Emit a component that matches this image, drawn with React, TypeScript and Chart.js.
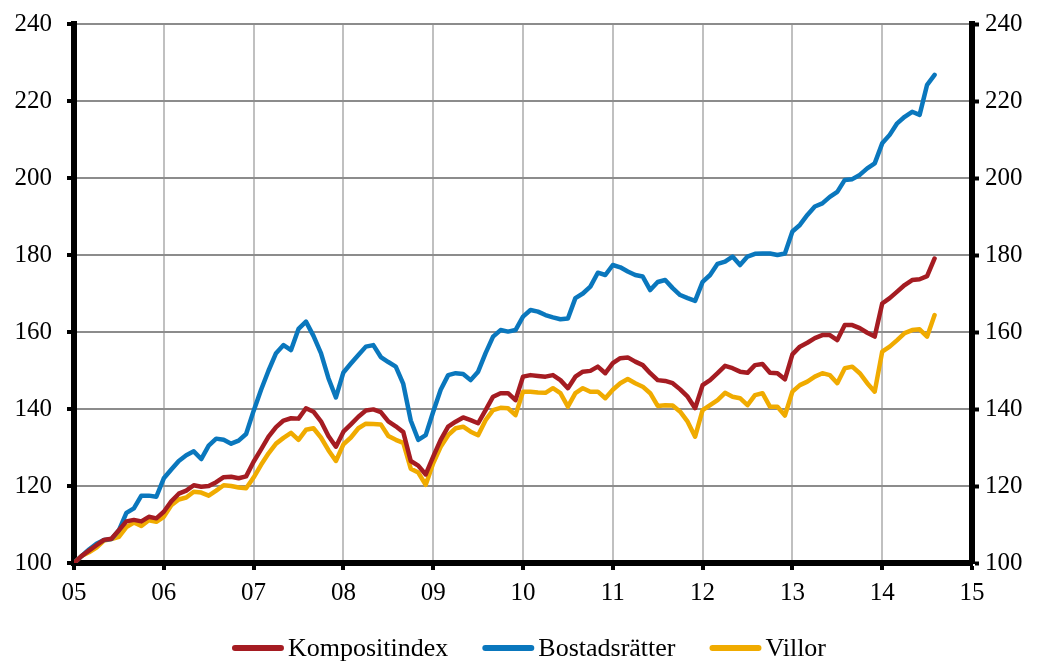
import React, { useEffect, useRef } from 'react';
import { Chart, registerables } from 'chart.js';

Chart.register(...registerables);

const yearLabels = ['05', '06', '07', '08', '09', '10', '11', '12', '13', '14', '15'];
const seriesNames = ['Kompositindex', 'Bostadsrätter', 'Villor'];
const seriesColors = ['#a51c22', '#0a77bd', '#f0ab00'];

// monthly index values, Jan 2005 .. Aug 2014
const kompositindex = [
  100, 101.8, 103.2, 104.6, 106, 106.3, 108.5, 110.8, 111.2, 110.8, 112, 111.6,
  113.3, 116, 118, 118.8, 120.2, 119.8, 120, 121, 122.3, 122.4, 122, 122.5,
  126.3, 129.5, 132.8, 135.3, 137, 137.6, 137.5, 140.2, 139.3, 136.8, 133, 130.2,
  134.1, 136, 138, 139.6, 139.9, 139.2, 136.8, 135.5, 134, 126.5, 125.3, 123,
  127.6, 132, 135.4, 136.7, 137.8, 137.1, 136.3, 139.7, 143.2, 144.1, 144.1, 142.3,
  148.4, 148.8, 148.6, 148.4, 148.8, 147.5, 145.4, 148.4, 149.7, 149.9, 151, 149.3,
  151.9, 153.2, 153.4, 152.3, 151.4, 149.3, 147.5, 147.3, 146.7, 145.1, 143.2, 140.2,
  146.2, 147.5, 149.3, 151.2, 150.6, 149.7, 149.4, 151.4, 151.7, 149.4, 149.3, 147.7,
  154.2, 156.2, 157.2, 158.4, 159.2, 159.2, 157.9, 161.8, 161.8, 161, 159.8, 158.8,
  167.4, 168.8, 170.5, 172.2, 173.5, 173.7, 174.5, 179.1,
];

const bostadsratter = [
  100, 101.8, 103.5, 105, 106, 106.2, 108.5, 113, 114.2, 117.5, 117.5, 117.2,
  122, 124.3, 126.5, 128, 129, 127, 130.5, 132.3, 132, 131, 131.8, 133.5,
  139.5, 145, 150, 154.5, 156.6, 155.3, 160.8, 162.7, 159, 154.5, 148, 143,
  149.5, 151.8, 154, 156.2, 156.6, 153.5, 152.2, 151, 146.5, 137, 132, 133.2,
  139.3, 145, 148.8, 149.3, 149.1, 147.5, 149.7, 154.5, 158.8, 160.5, 160.1, 160.5,
  164, 165.7, 165.3, 164.4, 163.8, 163.3, 163.5, 168.8, 170, 171.8, 175.4, 174.8,
  177.4, 176.8, 175.7, 174.8, 174.4, 170.9, 173, 173.5, 171.4, 169.6, 168.8, 168.1,
  173, 174.8, 177.7, 178.3, 179.6, 177.4, 179.6, 180.3, 180.4, 180.4, 180, 180.4,
  186.1, 187.8, 190.4, 192.6, 193.4, 195.1, 196.4, 199.5, 199.7, 200.8, 202.5, 203.8,
  209, 211.2, 214.2, 215.9, 217.2, 216.4, 224.2, 226.8,
];

const villor = [
  100, 101.8, 102.8, 104, 105.8, 106.2, 106.8, 109.3, 110.5, 109.6, 111.1, 110.7,
  112, 115, 116.5, 117, 118.5, 118.3, 117.5, 118.8, 120.2, 120, 119.6, 119.4,
  122.2, 125.5, 128.5, 131, 132.5, 133.8, 132, 134.6, 135, 132.6, 129.3, 126.5,
  130.8, 132.6, 135, 136.2, 136.1, 136, 133, 132, 131.2, 124.5, 123.5, 120.3,
  125.9, 130.2, 133.2, 135, 135.4, 134.1, 133.2, 137.1, 139.7, 140.3, 140.2, 138.4,
  144.5, 144.5, 144.3, 144.2, 145.4, 144.1, 140.6, 144.1, 145.4, 144.5, 144.5, 142.8,
  145, 146.7, 147.8, 146.7, 145.8, 144.1, 140.8, 141, 140.9, 139.3, 136.7, 132.8,
  139.7, 141, 142.3, 144.2, 143.2, 142.8, 141, 143.6, 144.1, 140.6, 140.6, 138.3,
  144.5, 146.2, 147.1, 148.4, 149.3, 148.8, 146.7, 150.6, 151, 149.3, 146.7, 144.5,
  154.9, 156.2, 157.9, 159.7, 160.5, 160.7, 158.8, 164.4,
];

const seriesValues = [kompositindex, bostadsratter, villor];

const Y_MIN = 100;
const Y_MAX = 240;
const Y_STEP = 20;
const MONTHS_PER_YEAR = 12;

const FONT_FAMILY = "'Liberation Serif', 'Times New Roman', serif";
const TICK_FONT = 25;
const LEGEND_FONT = 26;

const legendPlugin = {
  id: 'bottomLegend',
  afterDraw(chart: any) {
    const ctx = chart.ctx as CanvasRenderingContext2D;
    ctx.save();
    ctx.font = `${LEGEND_FONT}px ${FONT_FAMILY}`;
    const sw = 52;
    const gapText = 4;
    const gapItem = 34;
    const items = chart.data.datasets.map((ds: any) => ({
      text: ds.label as string,
      color: ds.borderColor as string,
      w: ctx.measureText(ds.label).width,
    }));
    const total =
      items.reduce((s: number, it: any) => s + sw + gapText + it.w, 0) + gapItem * (items.length - 1);
    let x = 529 - total / 2;
    const y = 648;
    ctx.textBaseline = 'middle';
    ctx.textAlign = 'left';
    items.forEach((it: any) => {
      ctx.strokeStyle = it.color;
      ctx.lineWidth = 6;
      ctx.lineCap = 'round';
      ctx.beginPath();
      ctx.moveTo(x + 3, y);
      ctx.lineTo(x + sw - 3, y);
      ctx.stroke();
      ctx.fillStyle = '#000';
      ctx.fillText(it.text, x + sw + gapText, y + 1);
      x += sw + gapText + it.w + gapItem;
    });
    ctx.restore();
  },
};

export default function App() {
  const canvasRef = useRef<HTMLCanvasElement | null>(null);

  useEffect(() => {
    if (!canvasRef.current) return;
    Chart.defaults.font.family = FONT_FAMILY;
    Chart.defaults.color = '#000';

    const datasets = seriesNames.map((name, i) => ({
      label: name,
      data: seriesValues[i].map((v, m) => ({ x: m, y: v })),
      borderColor: seriesColors[i],
      backgroundColor: seriesColors[i],
      borderWidth: 4.5,
      pointRadius: 0,
      tension: 0,
      borderCapStyle: 'round' as const,
      borderJoinStyle: 'round' as const,
      yAxisID: 'y',
    }));

    const chart = new Chart(canvasRef.current, {
      type: 'line',
      data: { datasets },
      plugins: [legendPlugin],
      options: {
        animation: false,
        responsive: false,
        layout: { padding: { top: 24, left: 14, right: 15, bottom: 54 } },
        plugins: {
          legend: { display: false },
          tooltip: { enabled: false },
        },
        scales: {
          x: {
            type: 'linear',
            min: 0,
            max: (yearLabels.length - 1) * MONTHS_PER_YEAR,
            afterFit: (s: any) => { s.height = 44; s.paddingLeft = 0; s.paddingRight = 0; },
            ticks: {
              stepSize: MONTHS_PER_YEAR,
              autoSkip: false,
              maxRotation: 0,
              padding: 8,
              font: { size: TICK_FONT },
              color: '#000',
              callback: (v: any) => yearLabels[Math.round(Number(v) / MONTHS_PER_YEAR)],
            },
            grid: {
              color: '#c0c0c0',
              lineWidth: 2,
              tickColor: '#000',
              tickWidth: 4,
              tickLength: 7,
            },
            border: { color: '#000', width: 6 },
          },
          y: {
            position: 'left',
            min: Y_MIN,
            max: Y_MAX,
            afterFit: (s: any) => { s.width = 60; s.paddingTop = 0; s.paddingBottom = 0; },
            ticks: { stepSize: Y_STEP, padding: 15, font: { size: TICK_FONT }, color: '#000' },
            grid: {
              color: '#8c8c8c',
              lineWidth: 2,
              tickColor: '#000',
              tickWidth: 4,
              tickLength: 7,
            },
            border: { color: '#000', width: 6 },
          },
          y2: {
            position: 'right',
            min: Y_MIN,
            max: Y_MAX,
            afterFit: (s: any) => { s.width = 51; s.paddingTop = 0; s.paddingBottom = 0; },
            ticks: { stepSize: Y_STEP, padding: 6, font: { size: TICK_FONT }, color: '#000' },
            grid: {
              drawOnChartArea: false,
              tickColor: '#000',
              tickWidth: 4,
              tickLength: 7,
            },
            border: { color: '#000', width: 6 },
          },
        },
      },
    });
    return () => chart.destroy();
  }, []);

  return (
    <div style={{ position: 'absolute', left: 0, top: 0, width: 1038, height: 661, background: '#fff' }}>
      <canvas ref={canvasRef} width={1038} height={661} style={{ display: 'block' }} />
    </div>
  );
}
